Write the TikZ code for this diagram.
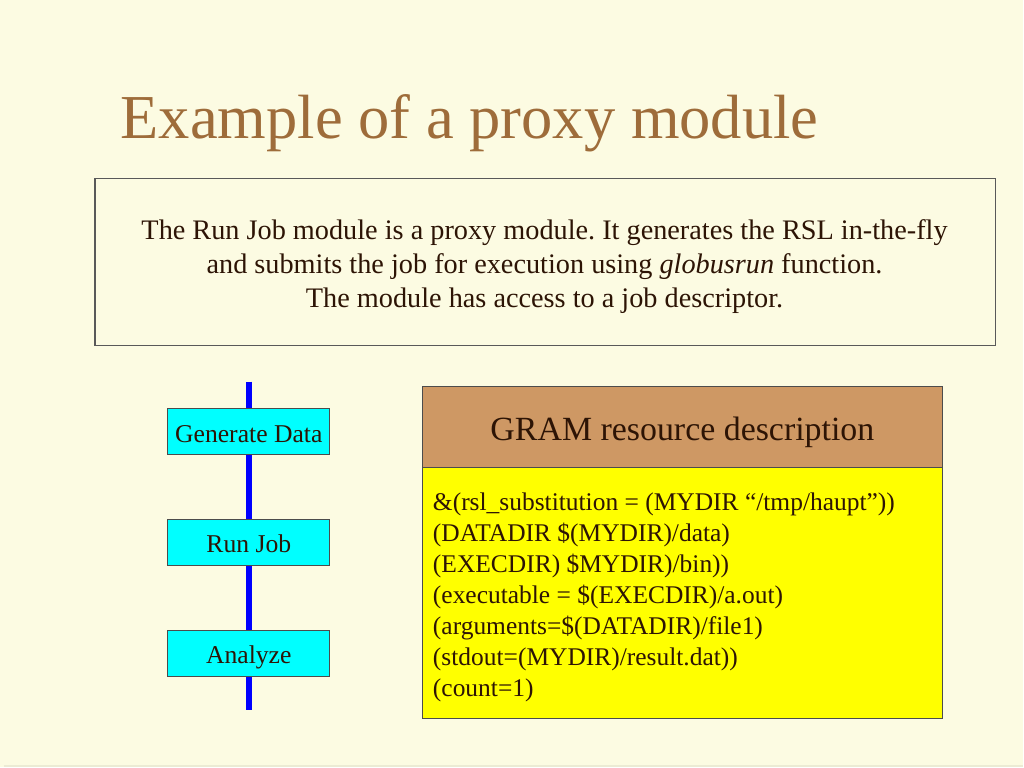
\documentclass[tikz,border=0pt]{standalone}
\usepackage{fontspec}
\setmainfont{Liberation Serif}
\usetikzlibrary{positioning,backgrounds}
\frenchspacing
\definecolor{bgcream}{RGB}{252,251,226}
\definecolor{bgedge}{RGB}{236,235,212}
\definecolor{titlebrown}{RGB}{158,108,58}
\definecolor{inkbrown}{RGB}{45,20,5}
\definecolor{gramtan}{RGB}{206,152,100}
\definecolor{stagecyan}{RGB}{0,255,255}
\definecolor{rslyellow}{RGB}{255,255,0}
\definecolor{flowblue}{RGB}{0,0,255}
\tikzset{
  stagebox/.style={draw=black!70,fill=stagecyan,line width=0.6pt,outer sep=0pt,
    minimum width=3.24cm,minimum height=0.92cm,text=inkbrown,text height=13pt,text depth=1.1pt,
    font=\fontsize{14.6}{16}\selectfont},
  flowline/.style={flowblue,line width=3.6pt}
}
\begin{document}
\begin{tikzpicture}[x=0.02cm,y=-0.02cm]
\begin{scope}[on background layer]
\fill[bgcream](0,0)rectangle(1024,768);
\draw[bgedge,line width=1pt](4,767)--(1024,767);
\end{scope}
\useasboundingbox(0,0)rectangle(1024,768);
\node[titlebrown,font=\fontsize{35.6}{44}\selectfont](title)at(470,123){Example of a proxy module};
\node[draw=black!65,line width=0.6pt,minimum width=18.02cm,minimum height=3.34cm](intro)at(545.5,262.5){};
\node[align=center,text=inkbrown,font=\fontsize{16.1}{19.3}\selectfont](introtext)at(545,267)
  {The Run Job module is a proxy module. It generates the RSL in-the-fly\\
   and submits the job for execution using \textit{globusrun} function.\\
   The module has access to a job descriptor.};
% workflow
\coordinate(top)at(249,382);
\coordinate(bot)at(249,711);
\node[stagebox](gen)at(249,432){Generate Data};
\node[stagebox,below=1.3cm of gen](run){Run Job};
\node[stagebox,below=1.3cm of run](ana){Analyze};
\begin{scope}[on background layer]
\draw[flowline](top)--(gen);
\draw[flowline](gen)--(run);
\draw[flowline](run)--(ana);
\draw[flowline](ana)--(bot);
\end{scope}
% resource description
\node[draw=black!70,fill=gramtan,line width=0.6pt,outer sep=0pt,minimum width=10.4cm,minimum height=1.62cm,
  text=inkbrown,text height=16pt,text depth=0.7pt,font=\fontsize{19.3}{22}\selectfont](gram)at(683,427.5)
  {GRAM resource description};
\node[draw=black!70,fill=rslyellow,line width=0.6pt,outer sep=0pt,minimum width=10.4cm,minimum height=5.02cm,
  below=0pt of gram](rsl){};
\node[anchor=west,align=left,inner sep=0pt,text=inkbrown,font=\fontsize{14.5}{17.6}\selectfont](code)at(433,598)
  {\&(rsl\_substitution = (MYDIR “/tmp/haupt”))\\
   (DATADIR \$(MYDIR)/data)\\
   (EXECDIR) \$MYDIR)/bin))\\
   (executable = \$(EXECDIR)/a.out)\\
   (arguments=\$(DATADIR)/file1)\\
   (stdout=(MYDIR)/result.dat))\\
   (count=1)};
\end{tikzpicture}
\end{document}
